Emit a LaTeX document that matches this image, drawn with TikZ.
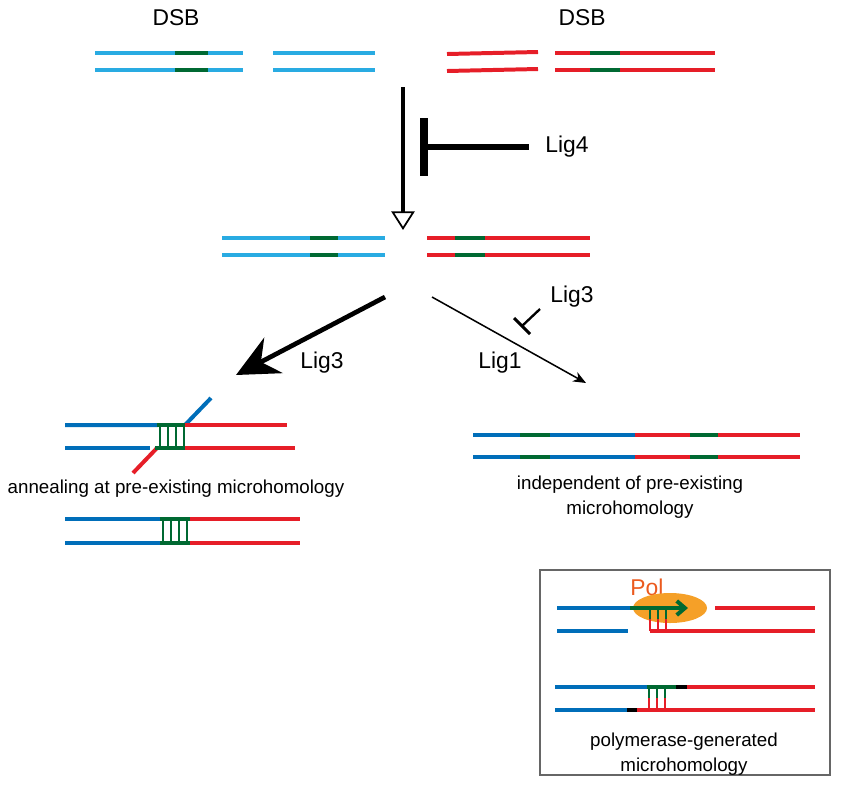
\documentclass[tikz,border=0pt]{standalone}
\usepackage{fontspec}
\setmainfont{Liberation Sans}
\usetikzlibrary{arrows.meta}
\definecolor{lblue}{RGB}{41,171,226}
\definecolor{dblue}{RGB}{0,110,185}
\definecolor{dnared}{RGB}{230,30,40}
\definecolor{mh}{RGB}{0,105,50}
\definecolor{polorange}{RGB}{245,160,40}
\definecolor{poltext}{RGB}{235,90,30}
\tikzset{
  strand/.style={line width=3.4pt},
  rung/.style={line width=2pt},
  big/.style={font=\fontsize{19.5}{22}\selectfont},
  small/.style={font=\fontsize{16}{19}\selectfont, align=center},
}
\begin{document}
\begin{tikzpicture}[x=0.03cm, y=-0.03cm]
    \useasboundingbox (0,0) rectangle (841,800);
    % break sites
    \node[big] (dsbl) at (176,18) {DSB};
    \node[big] (dsbr) at (582,18) {DSB};
    \draw[strand, lblue] (95,53) -- (243,53) (95,70) -- (243,70);
    \draw[strand, mh] (175,53) -- (208,53) (175,70) -- (208,70);
    \draw[strand, lblue] (273,53) -- (375,53) (273,70) -- (375,70);
    \draw[strand, dnared] (447,54) -- (538,52) (447,71) -- (538,69);
    \draw[strand, dnared] (555,53) -- (715,53) (555,70) -- (715,70);
    \draw[strand, mh] (590,53) -- (620,53) (590,70) -- (620,70);

    % end resection
    \coordinate (top) at (403,87);
    \coordinate (mid) at (403,230);
    \draw[line width=3pt, -{Triangle[open, width=20pt, length=16pt, fill=white, line width=1.5pt]}] (top) -- (mid);
    \node[big, inner sep=0pt] (lig4) at (567,147) {Lig4};
    \coordinate (blk) at (424,147);
    \draw[line width=4.5pt] ([xshift=-14pt]lig4.west) -- (blk);
    \draw[line width=6pt] (424,118) -- (424,176);

    % resected ends
    \draw[strand, lblue] (222,238) -- (385,238) (222,255) -- (385,255);
    \draw[strand, mh] (310,238) -- (338,238) (310,255) -- (338,255);
    \draw[strand, dnared] (427,238) -- (590,238) (427,255) -- (590,255);
    \draw[strand, mh] (455,238) -- (485,238) (455,255) -- (485,255);

    % pathways
    \coordinate (l0) at (385,297);
    \coordinate (l1) at (236,375);
    \draw[line width=4pt, -{Stealth[length=36pt, width=34pt, inset=12pt]}] (l0) -- (l1);
    \node[big] (lig3a) at (322,363) {Lig3};
    \coordinate (r0) at (432,297);
    \coordinate (r1) at (586,383);
    \draw[line width=1.3pt, -{Stealth[length=11pt, width=9pt]}] (r0) -- (r1);
    \node[big] (lig1) at (500,363) {Lig1};
    \node[big] (lig3b) at (572,297) {Lig3};
    \draw[line width=2pt] (540,309) -- (522,326);
    \draw[line width=2.5pt] (514,318) -- (530,334);

    % annealing
    \draw[strand, dblue] (65,425) -- (158,425) (185,425) -- (211,398);
    \draw[strand, dblue] (65,448) -- (150,448);
    \draw[strand, dnared] (185,425) -- (287,425) (185,448) -- (295,448);
    \draw[strand, dnared] (157,448) -- (133,473);
    \draw[strand, mh] (157,425) -- (185,425) (155,448) -- (185,448);
    \foreach \x in {160,168,176,184} \draw[rung, mh] (\x,425) -- (\x,448);
    \node[small] (ann) at (176,489) {annealing at pre-existing microhomology};
    \draw[strand, dblue] (65,519) -- (160,519) (65,543) -- (160,543);
    \draw[strand, mh] (160,519) -- (190,519) (160,543) -- (190,543);
    \draw[strand, dnared] (190,519) -- (300,519) (190,543) -- (300,543);
    \foreach \x in {163,171,179,187} \draw[rung, mh] (\x,519) -- (\x,543);

    % direct joining
    \foreach \y in {435,457} {
      \draw[strand, dblue] (473,\y) -- (635,\y);
      \draw[strand, dnared] (635,\y) -- (800,\y);
      \draw[strand, mh] (520,\y) -- (550,\y) (690,\y) -- (718,\y);
    }
    \node[small] (ind) at (630,497) {independent of pre-existing\\[2pt]microhomology};

    % polymerase inset
    \draw[gray!80!black, line width=1.2pt] (540,570) rectangle (830,775);
    \node[big, text=poltext] (pol) at (647,587) {Pol};
    \fill[polorange] (670,608) ellipse (37 and 15);
    \draw[strand, dblue] (557,608) -- (632,608) (557,631) -- (628,631);
    \draw[strand, dnared] (715,608) -- (815,608) (650,631) -- (815,631);
    \draw[rung, dnared] (650,631) -- (650,619) (658,631) -- (658,619) (666,631) -- (666,619);
    \draw[rung, mh] (650,619) -- (650,608) (658,619) -- (658,608) (666,619) -- (666,608);
    \draw[strand, mh, -{Straight Barb[length=7pt, width=12pt]}] (630,608) -- (688,608);
    \draw[strand, dblue] (555,687) -- (647,687) (555,710) -- (627,710);
    \draw[strand, mh] (647,687) -- (676,687);
    \draw[strand, black] (676,687) -- (687,687) (627,710) -- (637,710);
    \draw[strand, dnared] (687,687) -- (815,687) (637,710) -- (815,710);
    \foreach \x in {649,657,665} {
      \draw[rung, mh] (\x,687) -- (\x,698);
      \draw[rung, dnared] (\x,698) -- (\x,710);
    }
    \node[small] (pgm) at (684,754) {polymerase-generated\\[2pt]microhomology};
\end{tikzpicture}
\end{document}
